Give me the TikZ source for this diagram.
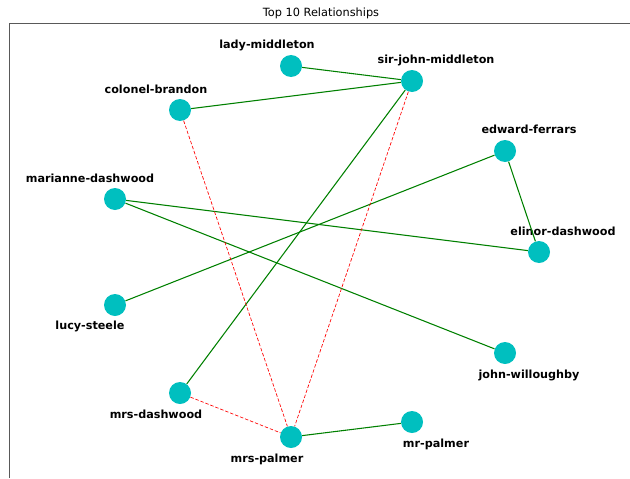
\documentclass[tikz,border=0pt]{standalone}
\usepackage{fontspec}
\setmainfont{DejaVu Sans}
\usetikzlibrary{positioning}
\begin{document}
\begin{tikzpicture}[x=0.75pt,y=-0.75pt]
\tikzstyle{person}=[circle,fill={rgb,255:red,0;green,191;blue,191},minimum size=16.5pt,inner sep=0pt]
\tikzstyle{who}=[font=\bfseries\fontsize{8.4}{10}\selectfont,inner sep=0pt]
\tikzstyle{tie}=[draw={rgb,255:red,0;green,128;blue,0},line width=0.8pt]
\tikzstyle{feud}=[draw={rgb,255:red,255;green,0;blue,0},line width=0.5pt,dash pattern=on 2.6pt off 1.4pt]
\useasboundingbox (0,0) rectangle (630,478);
\node[font=\fontsize{8.5}{10}\selectfont] (title) at (321,13) {Top 10 Relationships};
\draw[black!65,line width=0.6pt] (9,478) -- (9,23) -- (630,23);
\node[person] (lm) at (291,66) {};
\node[person] (sjm) at (412,81) {};
\node[person] (cb) at (180,110) {};
\node[person] (ef) at (505,151) {};
\node[person] (md) at (115,199) {};
\node[person] (ed) at (539,252) {};
\node[person] (ls) at (115,305) {};
\node[person] (jw) at (505,353) {};
\node[person] (mrsd) at (180,393) {};
\node[person] (mrsp) at (291,437) {};
\node[person] (mrp) at (412,422) {};
\node[who] at (267,45) {lady-middleton};
\node[who] at (436,60) {sir-john-middleton};
\node[who] at (156,89) {colonel-brandon};
\node[who] at (529,129) {edward-ferrars};
\node[who] at (90,178) {marianne-dashwood};
\node[who] at (563,231) {elinor-dashwood};
\node[who] at (90,326) {lucy-steele};
\node[who] at (529,375) {john-willoughby};
\node[who] at (156,414) {mrs-dashwood};
\node[who] at (267,459) {mrs-palmer};
\node[who] at (436,444) {mr-palmer};
\draw[tie] (lm) -- (sjm);
\draw[tie] (cb) -- (sjm);
\draw[tie] (sjm) -- (mrsd);
\draw[tie] (ef) -- (ls);
\draw[tie] (ef) -- (ed);
\draw[tie] (md) -- (ed);
\draw[tie] (md) -- (jw);
\draw[tie] (mrsp) -- (mrp);
\draw[feud] (cb) -- (mrsp);
\draw[feud] (sjm) -- (mrsp);
\draw[feud] (mrsd) -- (mrsp);
\end{tikzpicture}
\end{document}
